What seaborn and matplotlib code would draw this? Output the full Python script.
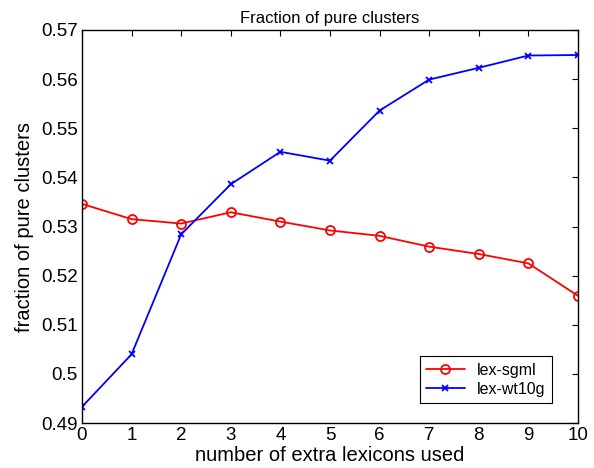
import numpy as np
import pandas as pd
import matplotlib
matplotlib.use("Agg")
import matplotlib.pyplot as plt
import seaborn as sns

# --- DATA ---
n_lexicons = [0, 1, 2, 3, 4, 5, 6, 7, 8, 9, 10]
lex_sgml = [0.5346, 0.5315, 0.5306, 0.5329, 0.5310, 0.5292, 0.5281, 0.5259, 0.5244, 0.5225, 0.5159]
lex_wt10g = [0.4933, 0.5040, 0.5284, 0.5386, 0.5452, 0.5434, 0.5536, 0.5599, 0.5623, 0.5648, 0.5649]
series_names = ["lex-sgml", "lex-wt10g"]
y_ticks = [0.49, 0.5, 0.51, 0.52, 0.53, 0.54, 0.55, 0.56, 0.57]
y_tick_labels = ["0.49", "0.5", "0.51", "0.52", "0.53", "0.54", "0.55", "0.56", "0.57"]

df = pd.DataFrame({
    "x": n_lexicons * 2,
    "y": lex_sgml + lex_wt10g,
    "serie": [series_names[0]] * len(n_lexicons) + [series_names[1]] * len(n_lexicons),
})

sns.set_style("white")
plt.rcParams["font.family"] = ["Liberation Sans", "DejaVu Sans"]
for key in ["text.color", "axes.labelcolor", "xtick.color", "ytick.color"]:
    plt.rcParams[key] = "black"

fig = plt.figure(figsize=(5.94, 4.68), dpi=100)
ax = fig.add_axes([0.138, 0.096, 0.835, 0.840])

# style MATLAB : rouge cercles vides, bleu croix
sns.lineplot(data=df[df["serie"] == "lex-sgml"], x="x", y="y", ax=ax, color="#ff0000",
             marker="o", markersize=6.5, markerfacecolor="none", markeredgecolor="#ff0000",
             markeredgewidth=1.3, linewidth=1.3, label="lex-sgml")
sns.lineplot(data=df[df["serie"] == "lex-wt10g"], x="x", y="y", ax=ax, color="#0000ff",
             marker="x", markersize=3.8, markeredgecolor="#0000ff", markeredgewidth=1.3,
             linewidth=1.3, label="lex-wt10g")

ax.set_xlim(0, 10)
ax.set_ylim(0.49, 0.57)
ax.set_xticks(n_lexicons)
ax.set_yticks(y_ticks)
ax.set_yticklabels(y_tick_labels)
ax.tick_params(axis="both", which="both", direction="in", top=True, right=True,
               length=4, width=0.8, labelsize=13.5, color="black", pad=3)
for sp in ax.spines.values():
    sp.set_color("black")
    sp.set_linewidth(1.0)

ax.set_xlabel("number of extra lexicons used", fontsize=14.5, labelpad=1)
ax.set_ylabel("fraction of pure clusters", fontsize=14.5, labelpad=5)
ax.set_title("Fraction of pure clusters", fontsize=12, pad=5)

leg = ax.legend(loc="lower right", bbox_to_anchor=(0.948, 0.051), borderaxespad=0,
                fontsize=11.5, frameon=True, fancybox=False, edgecolor="black",
                framealpha=1, borderpad=0.4, handlelength=2.4, labelspacing=0.25)
leg.get_frame().set_linewidth(0.8)

fig.savefig("out.png", dpi=100)
